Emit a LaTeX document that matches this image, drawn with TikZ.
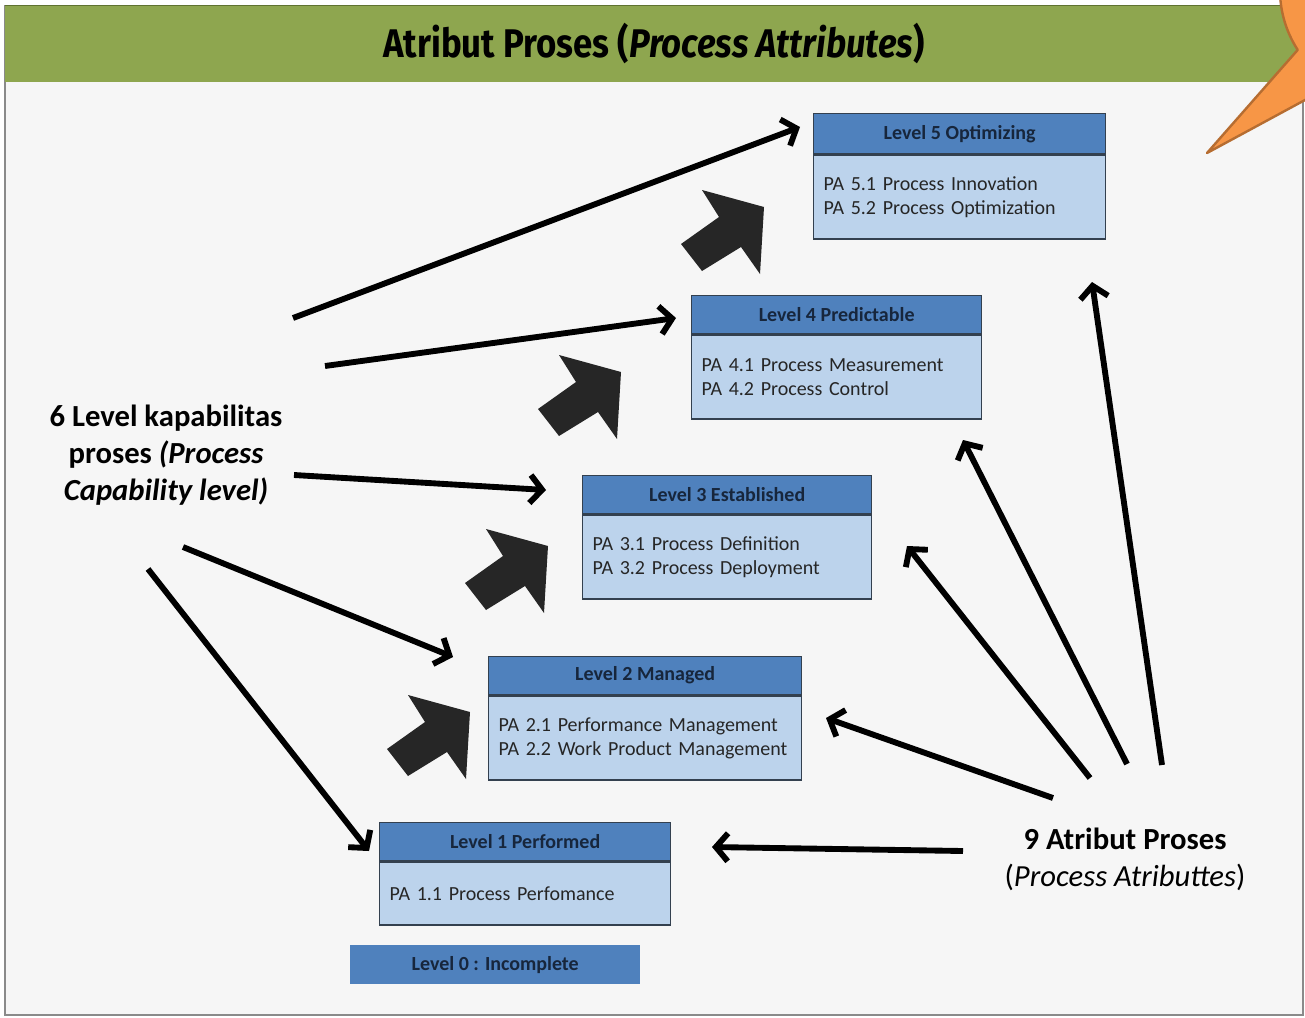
\documentclass[tikz,border=0pt]{standalone}
\usepackage{fontspec}
\usepackage{graphicx}
\setmainfont{Carlito}
\newfontfamily\titlefont{Fira Sans}
\usetikzlibrary{arrows.meta}

\definecolor{barGreen}{HTML}{8EA64F}
\definecolor{barEdge}{HTML}{5F7230}
\definecolor{slideBg}{HTML}{F6F6F6}
\definecolor{frameGrey}{HTML}{8A8A8A}
\definecolor{hdrBlue}{HTML}{4F81BD}
\definecolor{bodyBlue}{HTML}{BCD3EC}
\definecolor{boxLine}{HTML}{33404F}
\definecolor{hdrText}{HTML}{17263C}
\definecolor{calloutFill}{HTML}{F79646}
\definecolor{calloutLine}{HTML}{B66D31}
\definecolor{blockArrow}{HTML}{262626}

\tikzset{
  hdr/.style={draw=boxLine, line width=1pt, fill=hdrBlue, minimum width=#1,
    minimum height=28.5pt, inner sep=0pt, text=hdrText,
    font=\bfseries\fontsize{15}{17}\selectfont},
  bdy/.style={draw=boxLine, line width=1pt, fill=bodyBlue, text width=#1,
    inner xsep=7.5pt, inner ysep=0pt, minimum height=63pt, align=left,
    text=black!85, font=\fontsize{15}{18}\selectfont},
  sidetext/.style={align=center, text=black, font=\fontsize{23}{27.75}\selectfont},
  linkarrow/.style={line width=4.4pt, black,
    -{Straight Barb[length=9pt, width=21pt]}},
  bigarrow/.pic={
    \fill[blockArrow] (0,0) -- (-62,-17) -- (-45,10) -- (-83,37)
      -- (-62,64) -- (-23,40) -- (-4,67) -- cycle;
  }
}

\begin{document}
\begin{tikzpicture}[x=0.75pt, y=-0.75pt]
  \path[use as bounding box] (0,0) rectangle (1305,1017);
  \clip (0,0) rectangle (1305,1017);

  % slide background and frame
  \fill[white] (0,0) rectangle (1305,1017);
  \fill[slideBg] (5,5) rectangle (1303,1015);
  \draw[frameGrey, line width=1.5pt] (5,5) -- (5,1015) -- (1303,1015) -- (1303,5);

  % title bar
  \fill[barGreen] (5,5) rectangle (1305,82);
  \draw[barEdge, line width=1pt] (5,5.5) -- (1305,5.5);
  \node[text=black] (title) at (654,43)
    {\scalebox{0.87}[1]{\titlefont\bfseries\fontsize{30}{34}\selectfont
      Atribut Proses (\textit{Process Attributes})}};

  % speech callout in the corner
  \filldraw[fill=calloutFill, draw=calloutLine, line width=1.8pt, line join=round]
    (1207,153) -- (1297.7,49.9) arc[start angle=147, end angle=215, radius=110]
    -- (1500,-100) -- (1500,0) -- (1403,47) -- cycle;

  % capability levels
  \node[hdr=219pt, anchor=north west, minimum height=30pt] (h5) at (813,113) {Level 5 Optimizing};
  \node[bdy=204pt, anchor=north] (b5) at (h5.south)
    {PA 5.1 Process Innovation\\PA 5.2 Process Optimization};

  \node[hdr=217.5pt, anchor=north west] (h4) at (691,295) {Level 4 Predictable};
  \node[bdy=202.5pt, anchor=north] (b4) at (h4.south)
    {PA 4.1 Process Measurement\\PA 4.2 Process Control};

  \node[hdr=216.75pt, anchor=north west] (h3) at (582,475) {Level 3 Established};
  \node[bdy=201.75pt, anchor=north] (b3) at (h3.south)
    {PA 3.1 Process Definition\\PA 3.2 Process Deployment};

  \node[hdr=234.75pt, anchor=north west] (h2) at (488,656) {Level 2 Managed};
  \node[bdy=219.75pt, anchor=north] (b2) at (h2.south)
    {PA 2.1 Performance Management\\PA 2.2 Work Product Management};

  \node[hdr=218.25pt, anchor=north west] (h1) at (379,822) {Level 1 Performed};
  \node[bdy=203.25pt, anchor=north, minimum height=47.25pt] (b1) at (h1.south)
    {PA 1.1 Process Perfomance};

  \node[hdr=216.75pt, anchor=north west, draw=hdrBlue] (h0) at (350,945) {Level 0 : Incomplete};

  % block arrows climbing from level to level
  \pic (up2) at (470,712) {bigarrow};
  \pic (up3) at (548,546) {bigarrow};
  \pic (up4) at (621,372) {bigarrow};
  \pic (up5) at (764,207) {bigarrow};

  % side labels
  \node[sidetext, font=\bfseries\fontsize{23}{27.75}\selectfont] (cap) at (166,455)
    {6 Level kapabilitas\\proses \textit{(Process}\\\textit{Capability level)}};
  \node[sidetext] (attr) at (1125,859)
    {\textbf{9 Atribut Proses}\\(\textit{Process Atributtes})};

  % connector ends
  \coordinate (s5) at (293,318);  \coordinate (t5) at (800,127);
  \coordinate (s4) at (325,366);  \coordinate (t4) at (676,318);
  \coordinate (s3) at (294,475);  \coordinate (t3) at (546,490);
  \coordinate (s2) at (183,547);  \coordinate (t2) at (453,657);
  \coordinate (s1) at (148,569);  \coordinate (t1) at (369,851);

  \coordinate (r1) at (963,851);  \coordinate (e1) at (712,847);
  \coordinate (r2) at (1053,798); \coordinate (e2) at (826,718);
  \coordinate (r3) at (1090,778); \coordinate (e3) at (907,546);
  \coordinate (r4) at (1127,764); \coordinate (e4) at (963,440);
  \coordinate (r5) at (1162,765); \coordinate (e5) at (1092,282);

  % capability level connectors
  \draw[linkarrow] (s5) -- (t5);
  \draw[linkarrow] (s4) -- (t4);
  \draw[linkarrow] (s3) -- (t3);
  \draw[linkarrow] (s2) -- (t2);
  \draw[linkarrow] (s1) -- (t1);

  % process attribute connectors
  \draw[linkarrow] (r1) -- (e1);
  \draw[linkarrow] (r2) -- (e2);
  \draw[linkarrow] (r3) -- (e3);
  \draw[linkarrow] (r4) -- (e4);
  \draw[linkarrow] (r5) -- (e5);
\end{tikzpicture}
\end{document}
